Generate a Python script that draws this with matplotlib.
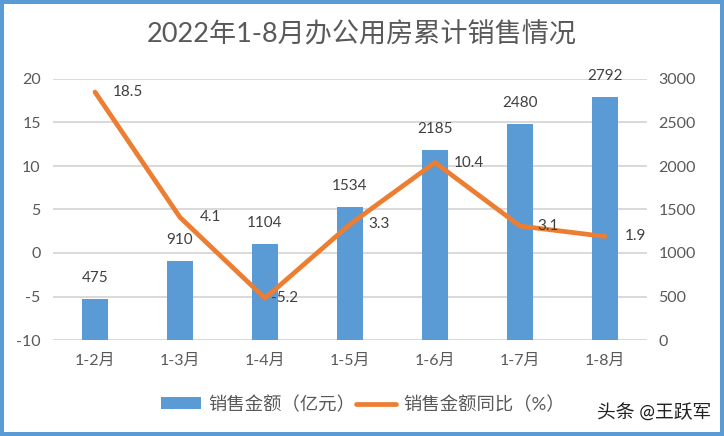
import matplotlib
matplotlib.use('Agg')
import matplotlib.pyplot as plt

plt.rcParams['font.family'] = ['Lato', 'Noto Sans CJK SC', 'DejaVu Sans']
plt.rcParams['axes.unicode_minus'] = False

months = ['1-2月', '1-3月', '1-4月', '1-5月', '1-6月', '1-7月', '1-8月']
sales = [475, 910, 1104, 1534, 2185, 2480, 2792]
growth = [18.5, 4.1, -5.2, 3.3, 10.4, 3.1, 1.9]
left_ticks = [-10, -5, 0, 5, 10, 15, 20]
right_ticks = [0, 500, 1000, 1500, 2000, 2500, 3000]

# pixel offsets of the line labels from their points
growth_offsets = [33, 30, 20, 29, 34, 28, 30]

blue = '#5B9BD5'
orange = '#ED7D31'
grey = '#595959'
dark = '#404040'

W, H = 724, 436
fig = plt.figure(figsize=(W / 100, H / 100), dpi=100, facecolor='white',
                 edgecolor=blue, linewidth=5.76)
ax = fig.add_axes([52.5 / W, (H - 340) / H, 595 / W, 261 / H])
ax2 = ax.twinx()

x = list(range(len(months)))

# bars are on the right axis, the line sits above them on the left axis
ax.set_zorder(ax2.get_zorder() + 1)
ax.patch.set_visible(False)

bars = ax2.bar(x, sales, width=0.31, color=blue, label='销售金额（亿元）', zorder=3)
line, = ax.plot(x, growth, color=orange, lw=3.4, solid_capstyle='round',
                solid_joinstyle='round', label='销售金额同比（%）')

ax.set_xlim(-0.5, 6.5)
ax.set_ylim(-10, 20)
ax2.set_ylim(0, 3000)
ax.set_xticks(x, months)
ax.set_yticks(left_ticks)
ax2.set_yticks(right_ticks)

ax2.grid(axis='y', color='#D9D9D9', lw=1.4, zorder=0)
ax2.set_axisbelow(True)
for a in (ax, ax2):
    for s in a.spines.values():
        s.set_visible(False)
    a.tick_params(length=0, labelsize=11.5, labelcolor=grey)
ax.tick_params(axis='y', pad=8.5)
ax2.tick_params(axis='y', pad=8)
ax.tick_params(axis='x', pad=10)

for i, v in enumerate(sales):
    ax2.annotate(str(v), (i, v), xytext=(0, 21), textcoords='offset pixels',
                 ha='center', va='center', fontsize=11, color=dark)
for i, v in enumerate(growth):
    ax.annotate(str(v), (i, v), xytext=(growth_offsets[i], 0), textcoords='offset pixels',
                ha='center', va='center', fontsize=11, color=dark, zorder=5)

fig.text(362 / W, 1 - 35 / H, '2022年1-8月办公用房累计销售情况', ha='center', va='center',
         fontsize=19.5, color=grey)

fig.legend(handles=[bars, line], loc='center', bbox_to_anchor=(363 / W, 1 - 404 / H),
           ncol=2, frameon=False, fontsize=13.2, labelcolor=grey, handlelength=2.18,
           handleheight=0.6, handletextpad=0.38, columnspacing=0.08)

fig.text(654.5 / W, 1 - 413 / H, '头条 @王跃军', ha='center', va='center',
         fontsize=13.5, color='#222222')

fig.savefig('out.png', dpi=100)
